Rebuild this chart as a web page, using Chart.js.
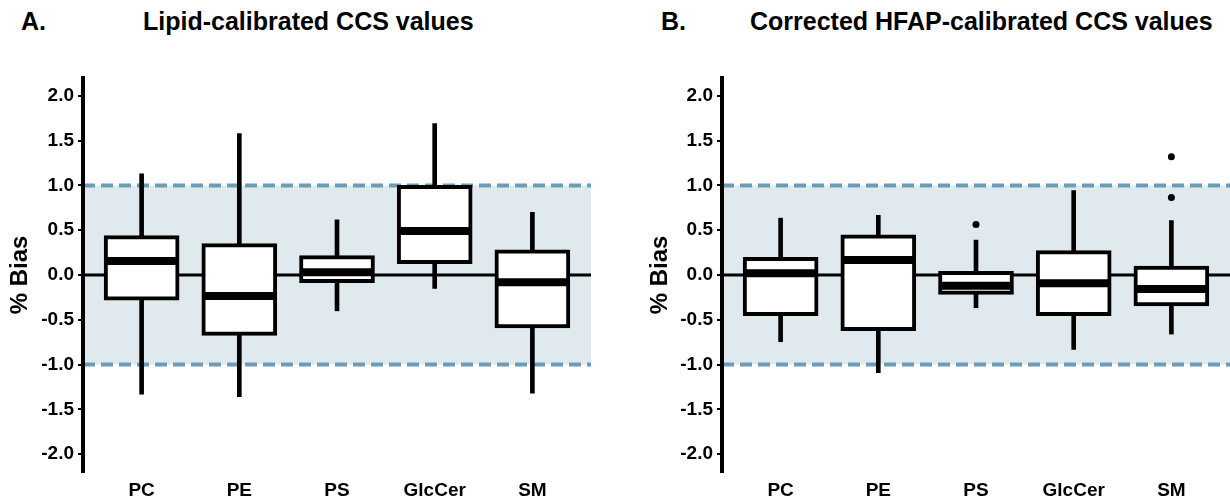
<!DOCTYPE html>
<html>
<head>
<meta charset="utf-8">
<script src="https://cdn.jsdelivr.net/npm/chart.js@4.4.0/dist/chart.umd.min.js"></script>
<style>
  body { margin: 0; background: #fff; font-family: "Liberation Sans", Arial, sans-serif; }
  #wrap { position: relative; width: 1230px; height: 501px; overflow: hidden; }
  canvas { position: absolute; top: 0; }
  .ttl { position: absolute; top: 9px; font-weight: bold; font-size: 25px; line-height: 25px; color: #000; white-space: nowrap; }
</style>
</head>
<body>
<div id="wrap">
  <div class="ttl" style="left:21px">A.</div>
  <div class="ttl" style="left:143px">Lipid-calibrated CCS values</div>
  <div class="ttl" style="left:661px">B.</div>
  <div class="ttl" style="left:750px">Corrected HFAP-calibrated CCS values</div>
  <canvas id="chartA" width="615" height="501" style="left:0"></canvas>
  <canvas id="chartB" width="615" height="501" style="left:615px"></canvas>
</div>
<script>
// categories + axis ticks
const categories = ['PC', 'PE', 'PS', 'GlcCer', 'SM'];
const yTickValues = [-2, -1.5, -1, -0.5, 0, 0.5, 1, 1.5, 2];
const biasLimits = [-1, 1];

// A. lipid-calibrated
const lipidLow = [-1.33, -1.36, -0.40, -0.15, -1.32];
const lipidQ1 = [-0.28, -0.675, -0.086, 0.127, -0.59];
const lipidMedian = [0.157, -0.235, 0.03, 0.49, -0.082];
const lipidQ3 = [0.44, 0.35, 0.216, 1.0, 0.28];
const lipidHigh = [1.13, 1.58, 0.616, 1.69, 0.70];
const lipidOutlierCat = [];
const lipidOutlierVal = [];

// B. corrected HFAP-calibrated
const hfapLow = [-0.745, -1.09, -0.366, -0.83, -0.66];
const hfapQ1 = [-0.455, -0.623, -0.216, -0.455, -0.344];
const hfapMedian = [0.02, 0.168, -0.12, -0.093, -0.157];
const hfapQ3 = [0.198, 0.448, 0.04, 0.272, 0.10];
const hfapHigh = [0.635, 0.665, 0.39, 0.944, 0.608];
const hfapOutlierCat = ['PS', 'SM', 'SM'];
const hfapOutlierVal = [0.563, 1.32, 0.866];

Chart.defaults.font.family = '"Liberation Sans", Arial, sans-serif';
Chart.defaults.color = '#000';

// shaded +-1% band, dashed limits and the zero line
const bandPlugin = {
  id: 'band',
  beforeDraw(chart) {
    const { ctx, chartArea: a, scales: { y } } = chart;
    const yTop = y.getPixelForValue(biasLimits[1]);
    const yBot = y.getPixelForValue(biasLimits[0]);
    const y0 = y.getPixelForValue(0);
    ctx.save();
    ctx.fillStyle = '#dfe9ee';
    ctx.fillRect(a.left, yTop, a.right - a.left, yBot - yTop);
    ctx.strokeStyle = '#000';
    ctx.lineWidth = 3;
    ctx.beginPath();
    ctx.moveTo(a.left, y0);
    ctx.lineTo(a.right, y0);
    ctx.stroke();
    ctx.strokeStyle = '#6b9dbb';
    ctx.lineWidth = 4;
    ctx.setLineDash([12, 6]);
    [yTop, yBot].forEach(py => {
      ctx.beginPath();
      ctx.moveTo(a.left, py);
      ctx.lineTo(a.right, py);
      ctx.stroke();
    });
    ctx.restore();
  }
};

function makeChart(id, lo, q1, med, q3, hi, outCat, outVal, yWidth, titlePad, padRight) {
  return new Chart(document.getElementById(id), {
    type: 'bar',
    data: {
      datasets: [
        {
          type: 'scatter',
          order: 0,
          data: outCat.map((c, i) => ({ x: categories.indexOf(c), y: outVal[i] })),
          pointRadius: 3.5,
          pointBackgroundColor: '#000',
          pointBorderWidth: 0
        },
        {
          type: 'scatter',
          order: 1,
          data: med.map((v, i) => ({ x: i, y: v })),
          pointStyle: 'line',
          pointRadius: 36,
          pointBorderWidth: 8,
          pointBorderColor: '#000'
        },
        {
          order: 2,
          data: q1.map((v, i) => ({ x: i, y: [v, q3[i]] })),
          grouped: false,
          barThickness: 75,
          backgroundColor: '#fff',
          borderColor: '#000',
          borderWidth: 4,
          borderSkipped: false
        },
        {
          order: 3,
          data: lo.map((v, i) => ({ x: i, y: [v, hi[i]] })),
          grouped: false,
          barThickness: 4,
          backgroundColor: '#000',
          borderWidth: 0
        }
      ]
    },
    options: {
      responsive: false,
      animation: false,
      events: [],
      layout: { autoPadding: false, padding: { top: 78, right: padRight, bottom: 0, left: 0 } },
      plugins: { legend: { display: false }, tooltip: { enabled: false } },
      scales: {
        x: {
          type: 'linear',
          min: -0.6,
          max: 4.6,
          offset: false,
          afterBuildTicks: s => { s.ticks = categories.map((c, i) => ({ value: i })); },
          afterFit: s => { s.height = 29; },
          ticks: {
            callback: v => categories[v],
            color: '#000',
            font: { size: 19, weight: 'bold' },
            padding: 7,
            autoSkip: false,
            maxRotation: 0
          },
          grid: { display: false, drawTicks: false },
          border: { display: false }
        },
        y: {
          min: -2.2,
          max: 2.2,
          afterBuildTicks: s => { s.ticks = yTickValues.map(v => ({ value: v })); },
          afterFit: s => { s.width = yWidth; },
          ticks: {
            callback: v => v.toFixed(1),
            color: '#000',
            font: { size: 19, weight: 'bold' },
            padding: 4
          },
          grid: { drawOnChartArea: false, tickLength: 5, color: '#000', lineWidth: 2 },
          border: { display: true, color: '#000', width: 4 },
          title: {
            display: true,
            text: '% Bias',
            color: '#000',
            font: { size: 24, weight: 'bold' },
            padding: { top: titlePad, bottom: 0 }
          }
        }
      }
    },
    plugins: [bandPlugin]
  });
}

makeChart('chartA', lipidLow, lipidQ1, lipidMedian, lipidQ3, lipidHigh,
  lipidOutlierCat, lipidOutlierVal, 83, 6, 24);
makeChart('chartB', hfapLow, hfapQ1, hfapMedian, hfapQ3, hfapHigh,
  hfapOutlierCat, hfapOutlierVal, 107, 31, 0);
</script>
</body>
</html>
